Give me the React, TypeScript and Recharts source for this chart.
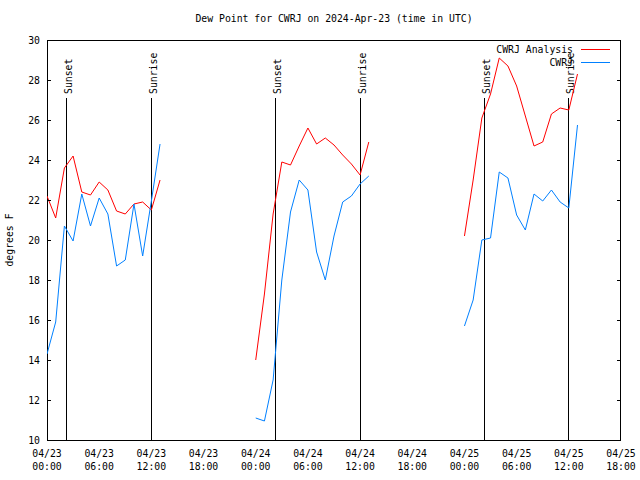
import React from 'react';
import { LineChart, Line, XAxis, YAxis, ReferenceLine, Customized } from 'recharts';

const FONT = '"DejaVu Sans Mono", "Liberation Mono", monospace';
const FS = 9.8;

// Hours since 04/23 00:00 UTC
const hoursSeg1 = [0, 1, 2, 3, 4, 5, 6, 7, 8, 9, 10, 11, 12, 13];
const analysisSeg1 = [22.2, 21.1, 23.6, 24.2, 22.4, 22.25, 22.9, 22.5, 21.45, 21.3, 21.8, 21.9, 21.5, 23.0];
const observedSeg1 = [14.3, 15.9, 20.7, 19.95, 22.3, 20.7, 22.1, 21.3, 18.7, 19.0, 21.8, 19.2, 21.95, 24.8];

const hoursSeg2 = [24, 25, 26, 27, 28, 29, 30, 31, 32, 33, 34, 35, 36, 37];
const analysisSeg2 = [14.0, 17.3, 21.3, 23.9, 23.75, 24.7, 25.6, 24.8, 25.1, 24.75, 24.25, 23.8, 23.25, 24.9];
const observedSeg2 = [11.1, 10.95, 13.0, 18.0, 21.4, 23.0, 22.5, 19.4, 18.0, 20.2, 21.9, 22.2, 22.8, 23.2];

const hoursSeg3 = [48, 49, 50, 51, 52, 53, 54, 55, 56, 57, 58, 59, 60, 61];
const analysisSeg3 = [20.2, 23.0, 26.1, 27.3, 29.1, 28.7, 27.7, 26.2, 24.7, 24.9, 26.3, 26.6, 26.5, 28.3];
const observedSeg3 = [15.7, 17.0, 20.0, 20.1, 23.4, 23.1, 21.25, 20.5, 22.3, 21.95, 22.5, 21.9, 21.6, 25.75];

const gapHours = [18, 42];

const xTickHours = [0, 6, 12, 18, 24, 30, 36, 42, 48, 54, 60, 66];
const xTickDates = ['04/23', '04/23', '04/23', '04/23', '04/24', '04/24', '04/24', '04/24', '04/25', '04/25', '04/25', '04/25'];
const xTickTimes = ['00:00', '06:00', '12:00', '18:00', '00:00', '06:00', '12:00', '18:00', '00:00', '06:00', '12:00', '18:00'];
const minorTickHours = Array.from({ length: 34 }, (_, i) => i * 2);
const yTicks = [10, 12, 14, 16, 18, 20, 22, 24, 26, 28, 30];

const sunHours = [2.19, 11.97, 26.23, 36.0, 50.26, 59.92];
const sunLabels = ['Sunset', 'Sunrise', 'Sunset', 'Sunrise', 'Sunset', 'Sunrise'];

const seriesNames = ['CWRJ Analysis', 'CWRJ'];
const seriesColors = ['#ff0000', '#0080ff'];

type Row = { h: number; a: number | null; o: number | null };
const buildSeg = (hs: number[], as: number[], os: number[]): Row[] =>
  hs.map((h, i) => ({ h, a: as[i], o: os[i] }));

const data: Row[] = [
  ...buildSeg(hoursSeg1, analysisSeg1, observedSeg1),
  { h: gapHours[0], a: null, o: null },
  ...buildSeg(hoursSeg2, analysisSeg2, observedSeg2),
  { h: gapHours[1], a: null, o: null },
  ...buildSeg(hoursSeg3, analysisSeg3, observedSeg3),
];

const W = 640;
const H = 480;
const LEFT = 47;
const RIGHT = 621;
const TOP = 40;
const BOTTOM = 440;

const BottomTick = (props: any) => {
  const { x, payload } = props;
  const i = xTickHours.indexOf(payload.value);
  return (
    <g>
      <text x={x} y={BOTTOM + 16.5} textAnchor="middle" fontFamily={FONT} fontSize={FS} fill="#000">
        {xTickDates[i]}
      </text>
      <text x={x} y={BOTTOM + 30} textAnchor="middle" fontFamily={FONT} fontSize={FS} fill="#000">
        {xTickTimes[i]}
      </text>
    </g>
  );
};

const TopTick = (props: any) => {
  const { x, payload } = props;
  const major = payload.value % 6 === 0;
  const len = major ? 4 : 2;
  const xx = Math.floor(x) + 0.5;
  return (
    <g shapeRendering="crispEdges">
      <line x1={xx} x2={xx} y1={BOTTOM} y2={BOTTOM - len} stroke="#000" />
      <line x1={xx} x2={xx} y1={TOP} y2={TOP + len} stroke="#000" />
    </g>
  );
};

const LeftTick = (props: any) => {
  const { y, payload } = props;
  const yy = Math.round(y) + 0.5;
  return (
    <g>
      <text x={LEFT - 7} y={y + 3.5} textAnchor="end" fontFamily={FONT} fontSize={FS} fill="#000">
        {payload.value}
      </text>
      <g shapeRendering="crispEdges">
        <line x1={LEFT} x2={LEFT + 4} y1={yy} y2={yy} stroke="#000" />
        <line x1={RIGHT} x2={RIGHT - 4} y1={yy} y2={yy} stroke="#000" />
      </g>
    </g>
  );
};

const SunShape = (label: string) => (p: any) => {
  const x = Math.floor(p.x1) + 0.5;
  return (
    <g>
      <line x1={x} x2={x} y1={TOP + 58} y2={BOTTOM} stroke="#000" strokeWidth={1} shapeRendering="crispEdges" />
      <text
        x={x + 5.5}
        y={TOP + 54}
        transform={`rotate(-90 ${x + 5.5} ${TOP + 54})`}
        textAnchor="start"
        fontFamily={FONT}
        fontSize={FS}
        fill="#000"
      >
        {label}
      </text>
    </g>
  );
};

const Decorations = () => (
  <g>
    <rect
      x={LEFT + 0.5}
      y={TOP + 0.5}
      width={RIGHT - LEFT - 1}
      height={BOTTOM - TOP}
      fill="none"
      stroke="#000"
      shapeRendering="crispEdges"
    />
    <text x={(LEFT + RIGHT) / 2} y={22} textAnchor="middle" fontFamily={FONT} fontSize={FS} fill="#000">
      Dew Point for CWRJ on 2024-Apr-23 (time in UTC)
    </text>
    <text
      x={13}
      y={(TOP + BOTTOM) / 2}
      transform={`rotate(-90 13 ${(TOP + BOTTOM) / 2})`}
      textAnchor="middle"
      fontFamily={FONT}
      fontSize={FS}
      fill="#000"
    >
      degrees F
    </text>
    {seriesNames.map((n, i) => (
      <g key={n}>
        <text x={573} y={53 + i * 13} textAnchor="end" fontFamily={FONT} fontSize={FS} fill="#000">
          {n}
        </text>
        <line x1={581} x2={610} y1={49.5 + i * 13} y2={49.5 + i * 13} stroke={seriesColors[i]} shapeRendering="crispEdges" />
      </g>
    ))}
  </g>
);

export default function App() {
  return (
    <div style={{ position: 'absolute', left: 0, top: 0, width: W, height: H, background: '#fff' }}>
      <LineChart
        width={W}
        height={H}
        data={data}
        margin={{ top: TOP, right: W - RIGHT, bottom: 0, left: 0 }}
      >
        <XAxis
          dataKey="h"
          type="number"
          domain={[0, 66]}
          ticks={xTickHours}
          interval={0}
          height={H - BOTTOM}
          tickLine={false}
          axisLine={false}
          tickSize={0}
          tickMargin={0}
          tick={<BottomTick />}
          allowDataOverflow
        />
        <XAxis
          xAxisId="top"
          orientation="top"
          dataKey="h"
          type="number"
          domain={[0, 66]}
          ticks={minorTickHours}
          interval={0}
          height={0}
          tickLine={false}
          axisLine={false}
          tickSize={0}
          tickMargin={0}
          tick={<TopTick />}
          allowDataOverflow
        />
        <YAxis
          type="number"
          domain={[10, 30]}
          ticks={yTicks}
          interval={0}
          width={LEFT}
          tickLine={false}
          axisLine={false}
          tickSize={0}
          tickMargin={0}
          tick={<LeftTick />}
          allowDataOverflow
        />
        {sunHours.map((h, i) => (
          <ReferenceLine key={i} x={h} stroke="#000" shape={SunShape(sunLabels[i])} />
        ))}
        <Line
          dataKey="a"
          name={seriesNames[0]}
          stroke={seriesColors[0]}
          strokeWidth={1}
          dot={false}
          isAnimationActive={false}
          connectNulls={false}
          type="linear"
        />
        <Line
          dataKey="o"
          name={seriesNames[1]}
          stroke={seriesColors[1]}
          strokeWidth={1}
          dot={false}
          isAnimationActive={false}
          connectNulls={false}
          type="linear"
        />
        <Customized component={<Decorations />} />
      </LineChart>
    </div>
  );
}
